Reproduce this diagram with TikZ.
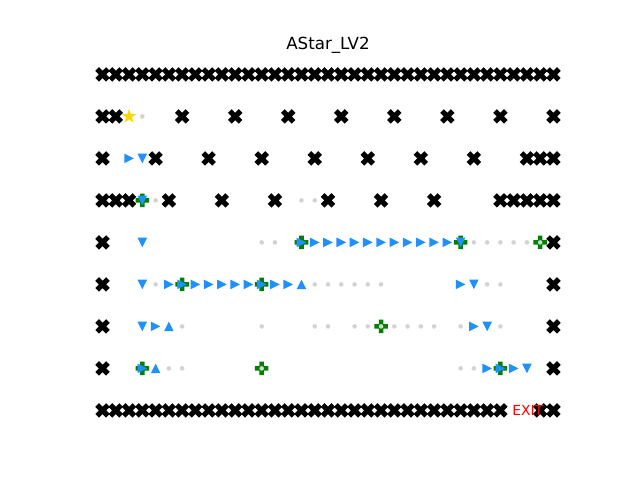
\documentclass[tikz,border=0pt]{standalone}
\usepackage{fontspec}
\setmainfont{DejaVu Sans}
\usepackage{tikz}
\usepackage{xcolor}

\begin{document}
\begin{tikzpicture}[x=0.75pt,y=0.75pt,yscale=-1,xscale=1,
  wall/.pic={\fill [color={rgb, 255:red, 0; green, 0; blue, 0 }, rotate=45] (-2.6,-7.6) -- (2.6,-7.6) -- (2.6,-2.6) -- (7.6,-2.6) -- (7.6,2.6) -- (2.6,2.6) -- (2.6,7.6) -- (-2.6,7.6) -- (-2.6,2.6) -- (-7.6,2.6) -- (-7.6,-2.6) -- (-2.6,-2.6) -- cycle ;},
  expanded/.pic={\fill [color={rgb, 255:red, 0; green, 128; blue, 0 }] (-2.3,-6.8) -- (2.3,-6.8) -- (2.3,-2.3) -- (6.8,-2.3) -- (6.8,2.3) -- (2.3,2.3) -- (2.3,6.8) -- (-2.3,6.8) -- (-2.3,2.3) -- (-6.8,2.3) -- (-6.8,-2.3) -- (-2.3,-2.3) -- cycle ;},
  visited/.pic={\fill [color={rgb, 255:red, 211; green, 211; blue, 211 }] (0,0) circle (2.3) ;},
  goright/.pic={\fill [color={rgb, 255:red, 30; green, 144; blue, 255 }] (4.8,0) -- (-4.8,-4.8) -- (-4.8,4.8) -- cycle ;},
  godown/.pic={\fill [color={rgb, 255:red, 30; green, 144; blue, 255 }] (0,-4.8) -- (-4.8,4.8) -- (4.8,4.8) -- cycle ;},
  goup/.pic={\fill [color={rgb, 255:red, 30; green, 144; blue, 255 }] (0,4.8) -- (-4.8,-4.8) -- (4.8,-4.8) -- cycle ;},
  startstar/.pic={\fill [color={rgb, 255:red, 255; green, 215; blue, 0 }] (90:7.6) \foreach \a/\rr in {126/2.9,162/7.6,198/2.9,234/7.6,270/2.9,306/7.6,342/2.9,378/7.6,414/2.9} { -- (\a:\rr) } -- cycle ;}]
\useasboundingbox (0,0) rectangle (640,480);

%Walls
\foreach \r/\l in {0/{0,...,34}, 1/{0,1,6,10,14,18,22,26,30,34}, 2/{0,4,8,12,16,20,24,28,32,33,34}, 3/{0,1,2,5,9,13,17,21,25,30,31,32,33,34}, 4/{0,34}, 5/{0,34}, 6/{0,34}, 7/{0,34}, 8/{0,...,30,33,34}}
  \foreach \c in \l
    \pic at ({102.55+13.262*\c},{74.4+42*\r}) {wall};

%Expanded nodes
\foreach \c/\r in {3/3, 15/4, 27/4, 33/4, 6/5, 12/5, 21/6, 3/7, 12/7, 30/7}
  \pic at ({102.55+13.262*\c},{74.4+42*\r}) {expanded};

%Visited cells
\foreach \r/\l in {1/{3}, 3/{4,15,16}, 4/{12,13,28,29,30,31,32,33}, 5/{4,16,17,18,19,20,21,29,30}, 6/{6,12,16,17,19,20,21,22,23,24,25,27,30}, 7/{5,6,12,27,28}}
  \foreach \c in \l
    \pic at ({102.55+13.262*\c},{74.4+42*\r}) {visited};

%Path
\foreach \r/\l in {2/{2}, 4/{15,...,26}, 5/{5,...,14,27}, 6/{4,28}, 7/{3,29,30,31}}
  \foreach \c in \l
    \pic at ({102.55+13.262*\c},{74.4+42*\r}) {goright};
\foreach \c/\r in {3/2, 3/3, 3/4, 27/4, 3/5, 28/5, 3/6, 29/6, 32/7}
  \pic at ({102.55+13.262*\c},{74.4+42*\r}) {godown};
\foreach \c/\r in {15/5, 5/6, 4/7}
  \pic at ({102.55+13.262*\c},{74.4+42*\r}) {goup};

%Start
\pic at ({102.55+13.262*2},{74.4+42*1}) {startstar};

% Text Node
\draw (328,49.3) node (title) [anchor=base][inner sep=0pt] [font=\fontsize{12.5}{15}\selectfont]  {AStar\_LV2};
% Text Node
\draw (512,410.4) node (exitlabel) [anchor=west][inner sep=0pt] [font=\fontsize{10.4}{12}\selectfont, color={rgb, 255:red, 255; green, 0; blue, 0 }]  {EXIT};
\end{tikzpicture}
\end{document}
